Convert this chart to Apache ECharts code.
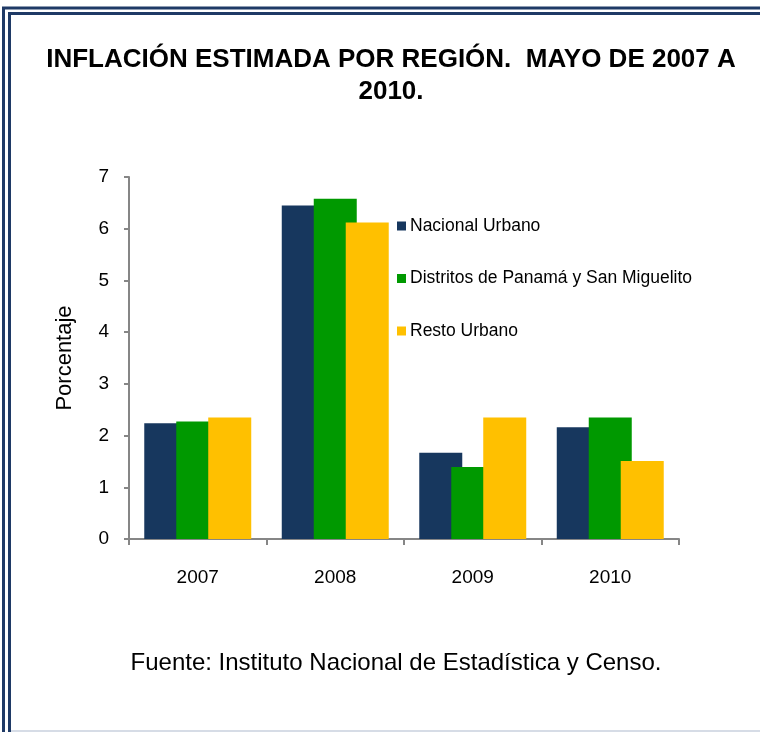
<!DOCTYPE html>
<html>
<head>
<meta charset="utf-8">
<script src="https://cdn.jsdelivr.net/npm/echarts@6/dist/echarts.min.js"></script>
<style>
  html, body { margin: 0; padding: 0; background: #fff; }
  #main { width: 760px; height: 732px; }
</style>
</head>
<body>
<div id="main"></div>
<script>
// datos
const years = ["2007", "2008", "2009", "2010"];
const nacionalUrbano = [2.24, 6.45, 1.67, 2.16];
const distritosPanama = [2.27, 6.58, 1.39, 2.35];
const restoUrbano = [2.35, 6.12, 2.35, 1.51];
const seriesNames = ["Nacional Urbano", "Distritos de Panamá y San Miguelito", "Resto Urbano"];
const yTicks = [0, 1, 2, 3, 4, 5, 6, 7];

const font = "'Liberation Sans', Arial, sans-serif";
const frameColor = "#1f3a66";

let myChart = echarts.init(document.getElementById("main"));

let option = {
  backgroundColor: "#fff",
  color: ["#17375e", "#009900", "#ffc000"],
  textStyle: { fontFamily: font },
  title: [
    {
      text: "INFLACIÓN ESTIMADA POR REGIÓN.  MAYO DE 2007 A\n2010.",
      left: 386,
      top: 39,
      textAlign: "center",
      textStyle: {
        fontFamily: font,
        fontSize: 26,
        fontWeight: "bold",
        color: "#000",
        lineHeight: 32,
        align: "center"
      }
    },
    {
      text: "Fuente: Instituto Nacional de Estadística y Censo.",
      left: 391,
      top: 646,
      textAlign: "center",
      textStyle: {
        fontFamily: font,
        fontSize: 24,
        fontWeight: "normal",
        color: "#000"
      }
    }
  ],
  // un legend por serie para fijar la posición vertical de cada una
  legend: seriesNames.map((name, i) => ({
    data: [name],
    left: 392,
    top: 212 + i * 52.5,
    itemWidth: 9,
    itemHeight: 9,
    itemGap: 4,
    icon: "rect",
    selectedMode: false,
    textStyle: { fontFamily: font, fontSize: 17.5, color: "#000", padding: [0, 0, 0, -1] }
  })),
  grid: {
    left: 129,
    right: 81,
    top: 177,
    bottom: 193,
    containLabel: false
  },
  xAxis: {
    type: "category",
    data: years,
    axisLine: { lineStyle: { color: "#868686", width: 2 } },
    axisTick: { show: true, length: 6, lineStyle: { color: "#868686", width: 2 } },
    axisLabel: { color: "#000", fontSize: 19, fontFamily: font, margin: 29 }
  },
  yAxis: {
    type: "value",
    min: yTicks[0],
    max: yTicks[yTicks.length - 1],
    interval: 1,
    name: "Porcentaje",
    nameLocation: "middle",
    nameGap: 53,
    nameRotate: 90,
    nameTextStyle: { color: "#000", fontSize: 22, fontFamily: font },
    axisLine: { show: true, lineStyle: { color: "#868686", width: 2 } },
    axisTick: { show: true, length: 5, lineStyle: { color: "#868686", width: 2 } },
    axisLabel: { color: "#000", fontSize: 19, fontFamily: font, margin: 20 },
    splitLine: { show: false }
  },
  series: [
    {
      name: seriesNames[0],
      type: "bar",
      barWidth: 43,
      barGap: "-25.6%",
      data: nacionalUrbano
    },
    {
      name: seriesNames[1],
      type: "bar",
      barWidth: 43,
      barGap: "-25.6%",
      data: distritosPanama
    },
    {
      name: seriesNames[2],
      type: "bar",
      barWidth: 43,
      barGap: "-25.6%",
      data: restoUrbano
    }
  ],
  graphic: [
    // marco doble (izquierda y arriba)
    { type: "line", shape: { x1: 3.5, y1: 7, x2: 3.5, y2: 732 }, style: { stroke: frameColor, lineWidth: 3 } },
    { type: "line", shape: { x1: 2, y1: 8, x2: 760, y2: 8 }, style: { stroke: frameColor, lineWidth: 3 } },
    { type: "line", shape: { x1: 9.5, y1: 13, x2: 9.5, y2: 732 }, style: { stroke: frameColor, lineWidth: 3 } },
    { type: "line", shape: { x1: 8, y1: 13.5, x2: 760, y2: 13.5 }, style: { stroke: frameColor, lineWidth: 3 } },
    { type: "line", shape: { x1: 11, y1: 731, x2: 760, y2: 731 }, style: { stroke: "#d6dce6", lineWidth: 2 } }
  ]
};

myChart.setOption(option);
</script>
</body>
</html>
